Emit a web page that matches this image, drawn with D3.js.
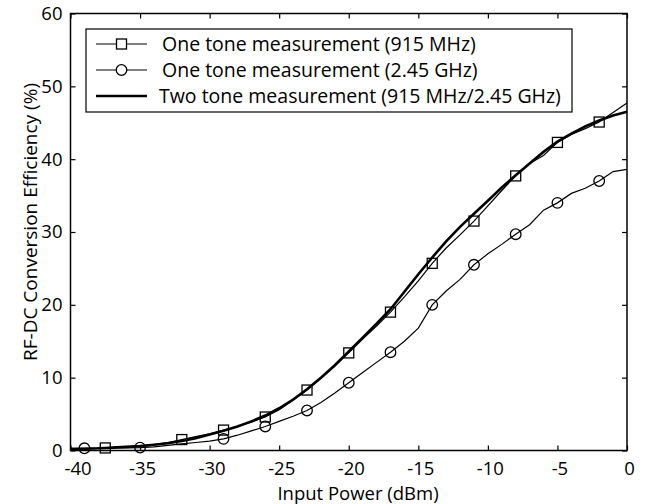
<!DOCTYPE html>
<html>
<head>
<meta charset="utf-8">
<script src="https://cdn.jsdelivr.net/npm/d3@7"></script>
<style>
  body { margin: 0; background: #fff; }
  text { font-family: "Open Sans", sans-serif; fill: #000; }
</style>
</head>
<body>
<div id="viz"></div>
<script>
const width = 647;
const height = 504;
const margin = { top: 13.5, right: 20, bottom: 53.5, left: 70.5 };

// input power (dBm)
const power = [-40, -39, -38, -37.5, -37, -36, -35, -34, -33, -32, -31, -30, -29, -28, -27, -26, -25, -24, -23, -22, -21,
  -20, -19, -18, -17, -16, -15, -14, -13, -12, -11, -10, -9, -8, -7, -6, -5, -4, -3, -2, -1, 0];

// efficiency (%) one tone 915 MHz
const eff915 = [0.2, 0.25, 0.3, 0.35, 0.4, 0.5, 0.6, 0.8, 1.1, 1.5, 1.9, 2.3, 2.8, 3.3, 3.9, 4.6, 5.6, 6.9, 8.3, 9.9, 11.6,
  13.4, 15.3, 17.1, 19.0, 21.1, 23.3, 25.7, 27.8, 29.6, 31.5, 33.6, 35.7, 37.7, 39.4, 40.5, 42.3, 43.4, 44.2, 45.1, 46.4, 47.7];

// efficiency (%) one tone 2.45 GHz
const eff245 = [0.3, 0.3, 0.3, 0.3, 0.35, 0.35, 0.4, 0.5, 0.7, 0.9, 1.1, 1.3, 1.6, 2.1, 2.7, 3.3, 4.0, 4.7, 5.5, 6.6, 7.9,
  9.3, 10.7, 12.1, 13.5, 15.0, 16.8, 20.0, 21.9, 23.5, 25.5, 27.0, 28.3, 29.7, 31.0, 33.0, 34.0, 35.3, 36.0, 37.0, 38.3, 38.6];

// efficiency (%) two tone
const effTwo = [0.2, 0.25, 0.3, 0.35, 0.4, 0.5, 0.6, 0.8, 1.0, 1.3, 1.7, 2.2, 2.7, 3.3, 4.0, 4.8, 5.8, 7.0, 8.4, 10.0, 11.7,
  13.6, 15.5, 17.4, 19.4, 21.8, 24.2, 26.5, 28.7, 30.7, 32.5, 34.3, 36.1, 37.8, 39.4, 41.0, 42.4, 43.5, 44.5, 45.3, 46.0, 46.5];

// where the markers sit
const squareAt = [-37.5, -32, -29, -26, -23, -20, -17, -14, -11, -8, -5, -2];
const circleAt = [-39, -35, -29, -26, -23, -20, -17, -14, -11, -8, -5, -2];

const xTicks = [-40, -35, -30, -25, -20, -15, -10, -5, 0];
const yTicks = [0, 10, 20, 30, 40, 50, 60];

const legendLabels = [
  'One tone measurement (915 MHz)',
  'One tone measurement (2.45 GHz)',
  'Two tone measurement (915 MHz/2.45 GHz)'
];

const svg = d3.select('#viz').append('svg')
  .attr('width', width)
  .attr('height', height);

const x = d3.scaleLinear()
  .domain([-40, 0])
  .range([margin.left, width - margin.right]);

const y = d3.scaleLinear()
  .domain([0, 60])
  .range([height - margin.bottom, margin.top]);

const x0 = x.range()[0], x1 = x.range()[1];
const y0 = y.range()[0], y1 = y.range()[1];

const line = d3.line()
  .x(d => x(d[0]))
  .y(d => y(d[1]));

const s915 = power.map((p, i) => [p, eff915[i]]);
const s245 = power.map((p, i) => [p, eff245[i]]);
const sTwo = power.map((p, i) => [p, effTwo[i]]);

// axes with inward ticks on all sides
const tickLen = 5;
const plain = d => String(d);
svg.append('g')
  .attr('transform', `translate(0,${y0})`)
  .call(d3.axisBottom(x).tickValues(xTicks).tickSize(-tickLen).tickPadding(11).tickFormat(plain))
  .call(g => g.select('.domain').remove())
  .call(g => g.selectAll('.tick text').attr('dx', d => d === -40 ? 7 : 2));

svg.append('g')
  .attr('transform', `translate(0,${y1})`)
  .call(d3.axisTop(x).tickValues(xTicks).tickSize(-tickLen).tickFormat(''))
  .call(g => g.select('.domain').remove());

svg.append('g')
  .attr('transform', `translate(${x0},0)`)
  .call(d3.axisLeft(y).tickValues(yTicks).tickSize(-tickLen).tickPadding(8).tickFormat(plain))
  .call(g => g.select('.domain').remove());

svg.append('g')
  .attr('transform', `translate(${x1},0)`)
  .call(d3.axisRight(y).tickValues(yTicks).tickSize(-tickLen).tickFormat(''))
  .call(g => g.select('.domain').remove());

svg.selectAll('.tick line').attr('stroke', '#000').attr('stroke-width', 1.2);
svg.selectAll('.tick text').style('font-size', '18.5px').style('font-family', '"Open Sans", sans-serif');

svg.append('rect')
  .attr('x', x0).attr('y', y1)
  .attr('width', x1 - x0).attr('height', y0 - y1)
  .attr('fill', 'none')
  .attr('stroke', '#000')
  .attr('stroke-width', 1.5);

// curves
svg.append('path')
  .attr('fill', 'none').attr('stroke', '#000').attr('stroke-width', 1.2)
  .attr('d', line(s245));

svg.append('path')
  .attr('fill', 'none').attr('stroke', '#000').attr('stroke-width', 1.2)
  .attr('d', line(s915));

svg.append('path')
  .attr('fill', 'none').attr('stroke', '#000').attr('stroke-width', 2.6)
  .attr('d', line(sTwo));

const sq = 10;
svg.append('g').selectAll('rect')
  .data(s915.filter(d => squareAt.includes(d[0])))
  .enter()
  .append('rect')
  .attr('x', d => x(d[0]) - sq / 2)
  .attr('y', d => y(d[1]) - sq / 2)
  .attr('width', sq).attr('height', sq)
  .attr('fill', 'none').attr('stroke', '#000').attr('stroke-width', 1.3);

svg.append('g').selectAll('circle')
  .data(s245.filter(d => circleAt.includes(d[0])))
  .enter()
  .append('circle')
  .attr('cx', d => x(d[0]))
  .attr('cy', d => y(d[1]))
  .attr('r', 5.3)
  .attr('fill', 'none').attr('stroke', '#000').attr('stroke-width', 1.3);

// legend
const legend = svg.append('g').attr('transform', 'translate(86,29)');
legend.append('rect')
  .attr('width', 486).attr('height', 83)
  .attr('fill', '#fff').attr('stroke', '#000').attr('stroke-width', 1.2);

legendLabels.forEach((label, i) => {
  const ly = 15 + i * 26;
  legend.append('line')
    .attr('x1', 10).attr('x2', 61).attr('y1', ly).attr('y2', ly)
    .attr('stroke', '#000').attr('stroke-width', i === 2 ? 2.6 : 1.2);
  if (i === 0) {
    legend.append('rect')
      .attr('x', 35.5 - sq / 2).attr('y', ly - sq / 2).attr('width', sq).attr('height', sq)
      .attr('fill', '#fff').attr('stroke', '#000').attr('stroke-width', 1.3);
  } else if (i === 1) {
    legend.append('circle')
      .attr('cx', 35.5).attr('cy', ly).attr('r', 5.3)
      .attr('fill', '#fff').attr('stroke', '#000').attr('stroke-width', 1.3);
  }
  legend.append('text')
    .attr('x', i === 2 ? 73 : 76).attr('y', ly)
    .attr('dy', '0.35em')
    .style('font-size', '19.5px')
    .text(label);
});

// axis titles
svg.append('text')
  .attr('x', 358)
  .attr('y', 500)
  .attr('text-anchor', 'middle')
  .style('font-size', '18.5px')
  .text('Input Power (dBm)');

svg.append('text')
  .attr('transform', 'translate(30,222) rotate(-90)')
  .attr('text-anchor', 'middle')
  .attr('dy', '0.35em')
  .style('font-size', '19px')
  .text('RF-DC Conversion Efficiency (%)');
</script>
</body>
</html>
